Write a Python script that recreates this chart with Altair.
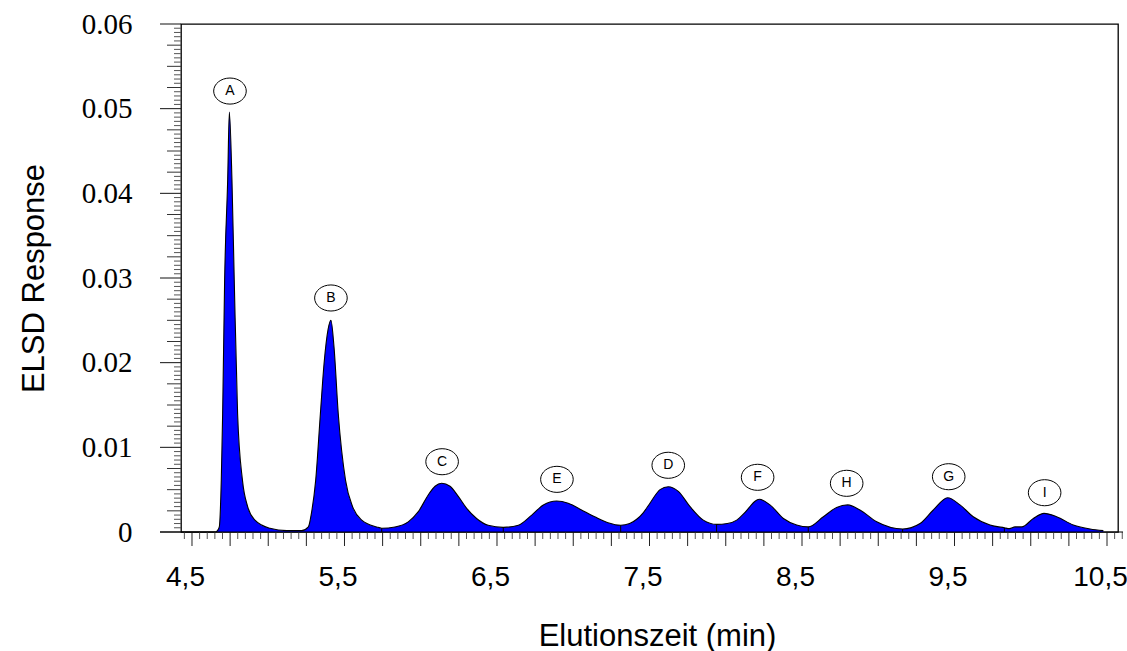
import altair as alt
import pandas as pd

# ---- chromatogram trace (time in min, ELSD response) ----
time_min = [4.428, 4.657, 4.668, 4.679, 4.692, 4.701, 4.714, 4.734, 4.745, 4.762, 4.777, 4.799,
            4.831, 4.865, 4.913, 5.011, 5.121, 5.219, 5.263, 5.283, 5.311, 5.342, 5.366, 5.392,
            5.411, 5.431, 5.459, 5.507, 5.553, 5.613, 5.711, 5.744, 5.831, 5.918, 5.984, 6.050,
            6.094, 6.137, 6.192, 6.246, 6.301, 6.366, 6.442, 6.541, 6.640, 6.728, 6.804, 6.891,
            6.967, 7.054, 7.141, 7.228, 7.311, 7.370, 7.416, 7.460, 7.503, 7.569, 7.623, 7.689,
            7.766, 7.853, 7.940, 8.010, 8.072, 8.115, 8.159, 8.190, 8.220, 8.290, 8.378, 8.465,
            8.541, 8.640, 8.727, 8.800, 8.880, 8.990, 9.160, 9.274, 9.361, 9.455, 9.536, 9.623,
            9.733, 9.827, 9.860, 9.897, 9.941, 10.017, 10.087, 10.170, 10.279, 10.389, 10.476]
response = [0.0, 0.0, 0.0002, 0.0006, 0.0061, 0.0140, 0.0298, 0.0416, 0.0496, 0.0416, 0.0298, 0.0140,
            0.0061, 0.0030, 0.0014, 0.00044, 0.00016, 0.00016, 0.0006, 0.0022, 0.0061, 0.0140, 0.0199, 0.0239,
            0.0250, 0.0219, 0.0140, 0.0061, 0.0030, 0.0014, 0.0006, 0.00045, 0.0006, 0.0012, 0.0024, 0.0044,
            0.0054, 0.00575, 0.0054, 0.0042, 0.0028, 0.0016, 0.0008, 0.00055, 0.0008, 0.0020, 0.0032, 0.00366,
            0.0034, 0.0026, 0.0018, 0.0011, 0.0008, 0.0010, 0.0015, 0.0023, 0.0034, 0.0050, 0.00535, 0.0048,
            0.0030, 0.0014, 0.0009, 0.0010, 0.0014, 0.0021, 0.0030, 0.0036, 0.00386, 0.0032, 0.0016, 0.00083,
            0.0006, 0.0018, 0.0029, 0.0032, 0.0026, 0.0012, 0.00035, 0.0010, 0.0026, 0.00405, 0.0032, 0.0018,
            0.00083, 0.0005, 0.0004, 0.0006, 0.0006, 0.0016, 0.0022, 0.0018, 0.00083, 0.00035, 0.00016]

# ---- peak labels ----
peak_names = ["A", "B", "C", "E", "D", "F", "H", "G", "I"]
peak_label_t = [4.749, 5.411, 6.140, 6.893, 7.623, 8.209, 8.793, 9.462, 10.091]
peak_label_y = [0.05208, 0.02764, 0.00830, 0.00622, 0.00788, 0.00646, 0.00575, 0.00653, 0.00464]

# ---- valley (integration) markers ----
valley_t = [5.744, 6.541, 7.311, 7.940, 8.541, 9.160, 9.827]
valley_y = [0.00045, 0.00055, 0.0008, 0.0009, 0.0006, 0.00035, 0.0005]

# ---- axis tick values ----
x_label_values = [4.5, 5.5, 6.5, 7.5, 8.5, 9.5, 10.5]
x_major_ticks = [round(4.5 + 0.25 * i, 2) for i in range(25)]
x_minor_ticks = [round(4.45 + 0.05 * i, 2) for i in range(124)
                 if round(4.45 + 0.05 * i, 2) not in x_major_ticks]
y_label_values = [0, 0.01, 0.02, 0.03, 0.04, 0.05, 0.06]
y_mid_ticks = [round(0.0025 * i, 4) for i in range(25) if i % 4 != 0]
y_minor_ticks = [round(0.0005 * i, 4) for i in range(121) if i % 5 != 0]

X_DOMAIN = [4.4279, 10.5721]
Y_DOMAIN = [0, 0.06]
W, H = 937, 508

xs = alt.Scale(domain=X_DOMAIN, nice=False, zero=False)
ys = alt.Scale(domain=Y_DOMAIN, nice=False, zero=False)

trace = pd.DataFrame({"t": time_min, "r": response})
labels = pd.DataFrame({"t": peak_label_t, "r": peak_label_y, "name": peak_names})
valleys = pd.DataFrame({"t": valley_t, "r": valley_y})

x_axis = alt.Axis(
    values=x_label_values,
    labelExpr="replace(format(datum.value, '.1f'), '.', ',')",
    ticks=False, domain=False, grid=False,
    labelFont="Liberation Sans", labelFontSize=28, labelColor="black",
    labelPadding=31, labelOffset=-7,
    title="Elutionszeit (min)", titleFont="Liberation Sans", titleFontSize=31,
    titleFontWeight="normal", titleColor="black",
    titleX=476, titleY=113, titleBaseline="alphabetic", titleAlign="center",
)
y_axis = alt.Axis(
    values=y_label_values,
    labelExpr="datum.value == 0 ? '0' : format(datum.value, '.2f')",
    ticks=False, domain=False, grid=False,
    labelFont="Liberation Serif", labelFontSize=29, labelColor="black",
    labelPadding=49, labelBaseline="middle",
    title="ELSD Response", titleFont="Liberation Sans", titleFontSize=31,
    titleFontWeight="normal", titleColor="black", titleAngle=270,
    titleX=-138, titleY=254, titleBaseline="alphabetic", titleAlign="center",
)

X = alt.X("t:Q", scale=xs, axis=x_axis)
Y = alt.Y("r:Q", scale=ys, axis=y_axis)

area = alt.Chart(trace).mark_area(
    color="#0000ff", opacity=1, fillOpacity=1, interpolate="monotone",
    line={"color": "black", "strokeWidth": 1.1},
).encode(x=X, y=Y)

valley_rules = alt.Chart(valleys).mark_rule(color="black", strokeWidth=1).encode(
    x=X, y=Y, y2=alt.datum(0),
)

def xticks(vals, length, color):
    return alt.Chart(pd.DataFrame({"t": vals})).mark_rule(color=color, strokeWidth=1).encode(
        x=X, y=alt.value(H), y2=alt.value(H + length),
    )

def yticks(vals, length, color):
    return alt.Chart(pd.DataFrame({"r": vals})).mark_rule(color=color, strokeWidth=1).encode(
        y=Y, x=alt.value(-length), x2=alt.value(0),
    )

baseline = alt.Chart(pd.DataFrame({"r": [0]})).mark_rule(color="black", strokeWidth=1.2).encode(
    y=Y, x=alt.value(-21), x2=alt.value(W + 5),
)

ellipse_path = "M -1.25 0 A 1.25 1 0 1 0 1.25 0 A 1.25 1 0 1 0 -1.25 0 Z"
ellipses = alt.Chart(labels).mark_point(
    shape=ellipse_path, size=680, filled=True, fill="white", stroke="black",
    strokeWidth=1, opacity=1,
).encode(x=X, y=Y)
letters = alt.Chart(labels).mark_text(
    font="Liberation Sans", fontSize=14, color="black", baseline="middle", align="center", dy=0,
).encode(x=X, y=Y, text="name:N")

chart = alt.layer(
    area,
    valley_rules,
    xticks(x_minor_ticks, 7, "#555555"),
    xticks(x_major_ticks, 14, "#222222"),
    yticks(y_minor_ticks, 7, "#555555"),
    yticks(y_mid_ticks, 14, "#333333"),
    yticks(y_label_values, 21, "#111111"),
    baseline,
    ellipses,
    letters,
).properties(
    width=W, height=H,
    padding={"left": 181, "top": 24, "right": 9, "bottom": 119},
    autosize=alt.AutoSizeParams(type="none"),
    background="white",
).configure_view(
    stroke="black", strokeWidth=1.3,
)

chart.save("out.html", embed_options={"renderer": "svg", "actions": False})
